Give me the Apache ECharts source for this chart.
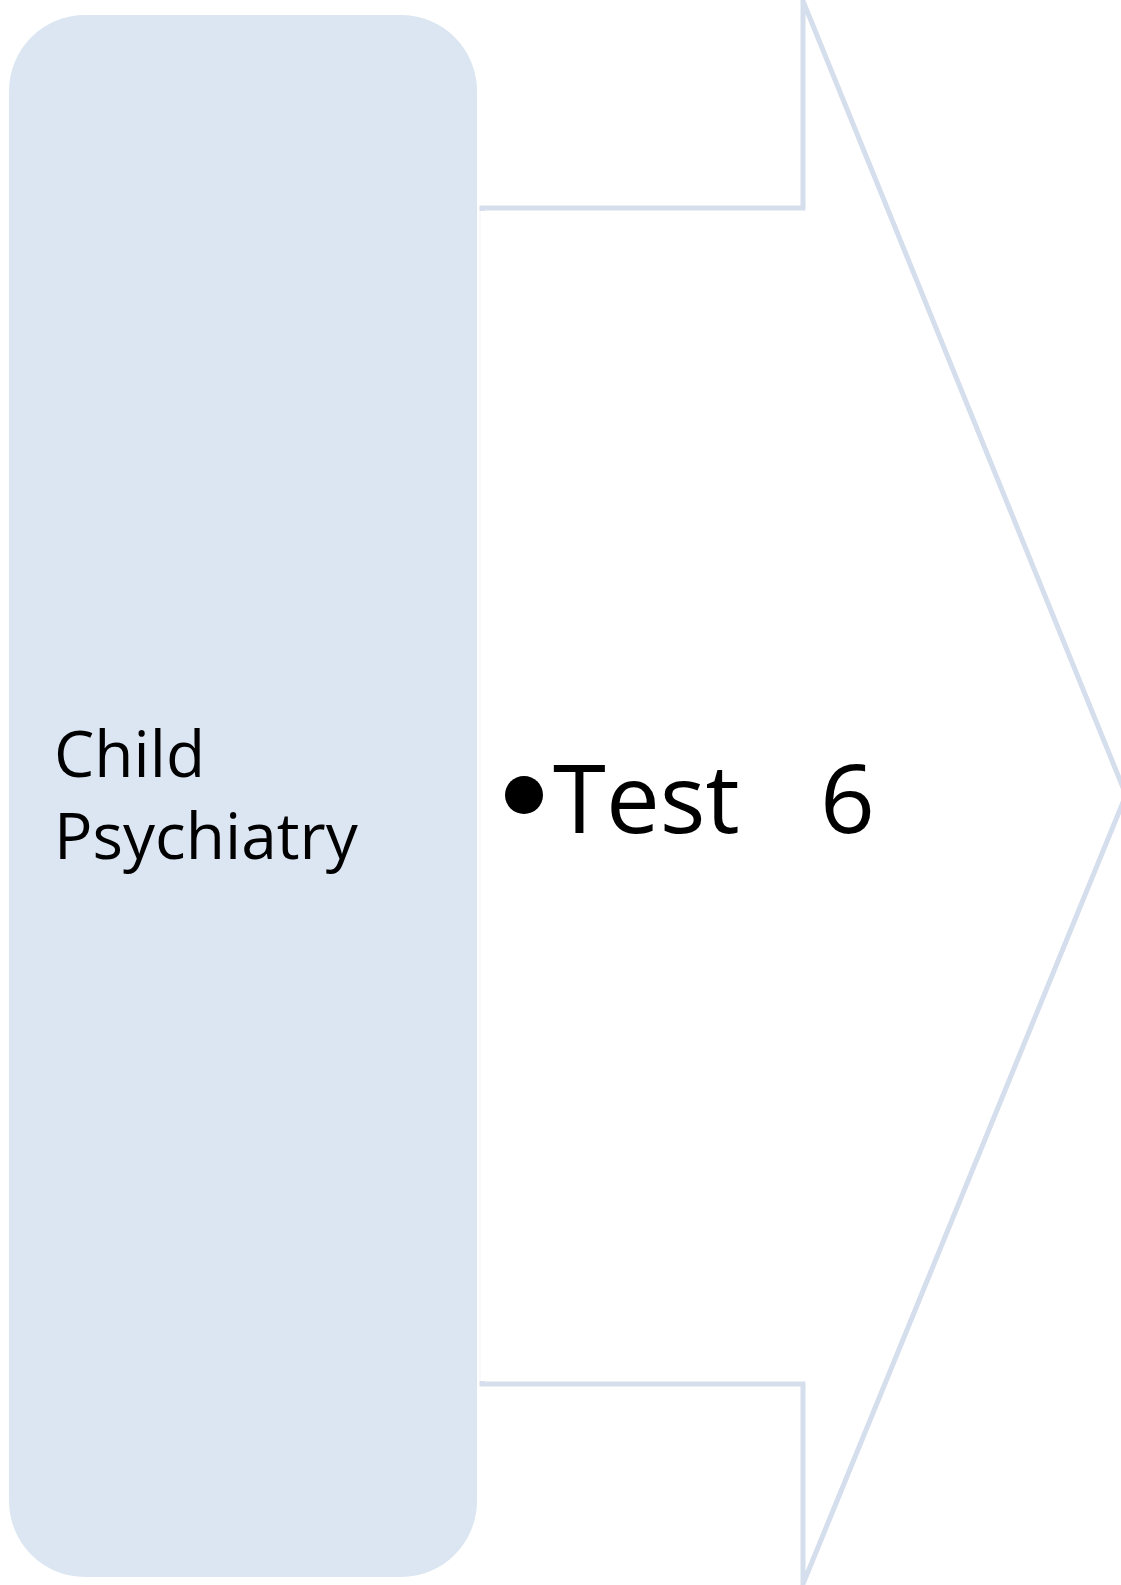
<!DOCTYPE html>
<html>
<head>
<meta charset="utf-8">
<script src="https://cdn.jsdelivr.net/npm/echarts@6/dist/echarts.min.js"></script>
<style>
  html, body { margin: 0; padding: 0; background: #fff; }
  #main { width: 1121px; height: 1585px; }
</style>
</head>
<body>
<div id="main"></div>
<script>
// step label (left box) and bullet items (arrow body), each item is [text, value after tab]
const stepLines = ["Child", "Psychiatry"];
const bulletItems = [["Test", "6"]];

const chart = echarts.init(document.getElementById("main"));

const boxFill = "#dce6f2";
const lineColor = "#d5deec";
const fontFamily = "'Open Sans', 'Noto Sans', sans-serif";

let graphic = [];

// rounded box
graphic.push({
  type: "rect",
  shape: { x: 9, y: 15, width: 468, height: 1562, r: 76 },
  style: { fill: boxFill },
});

// arrow outline (tip runs a little past the right edge)
graphic.push({
  type: "polygon",
  shape: {
    points: [
      [482, 208], [803, 208], [803, 1], [1126, 795],
      [803, 1584], [803, 1384], [482, 1384],
    ],
  },
  style: { fill: "#fff", stroke: lineColor, lineWidth: 5, lineJoin: "miter" },
});
// left edge of arrow body is barely visible
graphic.push({
  type: "line",
  shape: { x1: 482, y1: 211, x2: 482, y2: 1381 },
  style: { stroke: "#fff", lineWidth: 6 },
});
graphic.push({
  type: "line",
  shape: { x1: 480, y1: 211, x2: 480, y2: 1381 },
  style: { stroke: "#f1f4f8", lineWidth: 1 },
});

// step label text (y = top of line box)
stepLines.forEach((t, i) => {
  graphic.push({
    type: "text",
    x: 54,
    y: 727 + i * 82,
    style: {
      text: t,
      fill: "#000",
      font: "64px " + fontFamily,
    },
  });
});

// bullet items
bulletItems.forEach((item, i) => {
  let y = 758 + i * 110;
  graphic.push({
    type: "circle",
    shape: { cx: 524, cy: 795 + i * 110, r: 19 },
    style: { fill: "#000" },
  });
  graphic.push({
    type: "text",
    x: 553,
    y: y,
    style: { text: item[0], fill: "#000", font: "96px " + fontFamily },
  });
  graphic.push({
    type: "text",
    x: 820,
    y: y,
    style: { text: item[1], fill: "#000", font: "96px " + fontFamily },
  });
});

chart.setOption({
  backgroundColor: "#fff",
  animation: false,
  graphic: graphic,
});
</script>
</body>
</html>
